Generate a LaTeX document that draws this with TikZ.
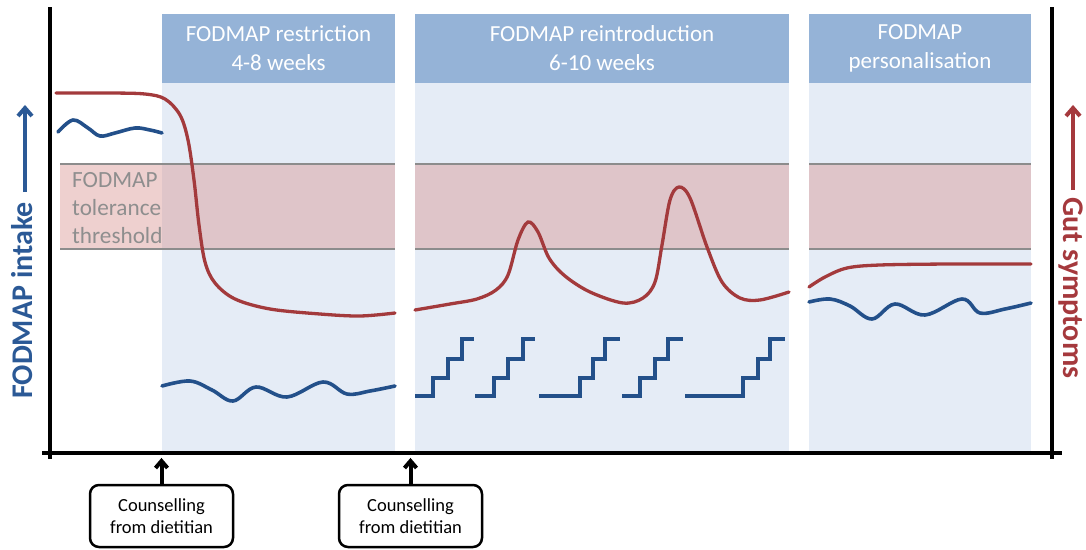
\documentclass[tikz,border=0pt]{standalone}
\usepackage{fontspec}
\setmainfont{Carlito}
\definecolor{hdr}{HTML}{95B3D7}
\definecolor{pane}{HTML}{E5ECF6}
\definecolor{bandc}{HTML}{D99694}
\definecolor{bandline}{HTML}{8C8C8C}
\definecolor{redc}{HTML}{A33A3C}
\definecolor{bluec}{HTML}{23508A}
\definecolor{lblblue}{HTML}{2B5996}
\definecolor{lblred}{HTML}{A5393D}
\definecolor{txtgray}{HTML}{8E8E8E}
\tikzset{
  hdrbox/.style={fill=hdr, text=white, inner sep=0pt, align=center,
    font=\fontsize{23}{29}\selectfont},
  panefill/.style={fill=pane},
  bandfill/.style={fill=bandc, fill opacity=0.45},
  bandedge/.style={draw=bandline, line width=2.2pt},
  redline/.style={draw=redc, line width=3.3pt, line cap=round},
  blueline/.style={draw=bluec, line width=3.6pt, line cap=round},
  stairline/.style={draw=bluec, line width=3.6pt, line join=miter},
  axisline/.style={draw=black, line width=4pt},
  cbox/.style={draw=black, line width=2.5pt, rounded corners=9pt, fill=white,
    minimum width=143pt, minimum height=62pt, inner sep=0pt, align=center,
    font=\fontsize{18.5}{22}\selectfont},
  shaft/.style={line width=4pt},
  chevron/.style={line width=4pt, line join=miter, line cap=butt},
  axlabel/.style={inner sep=0pt, font=\fontsize{30}{34}\selectfont\bfseries},
}
\begin{document}
\begin{tikzpicture}[x=1pt,y=-1pt]
\useasboundingbox (0,0) rectangle (1086,549);
% panel bodies
\fill[panefill] (162,83) rectangle (395,452);
\fill[panefill] (415,83) rectangle (789,452);
\fill[panefill] (809,83) rectangle (1031,452);
% tolerance band
\fill[bandfill] (60,164) rectangle (395,249);
\fill[bandfill] (415,164) rectangle (789,249);
\fill[bandfill] (809,164) rectangle (1031,249);
\draw[bandedge] (60,164) -- (395,164) (60,249) -- (395,249);
\draw[bandedge] (415,164) -- (789,164) (415,249) -- (789,249);
\draw[bandedge] (809,164) -- (1031,164) (809,249) -- (1031,249);
\node[anchor=north west, inner sep=0pt, align=left, text=txtgray,
  font=\fontsize{23.2}{28}\selectfont] (thr) at (72,172.5) {FODMAP\\tolerance\\threshold};
% headers
\node[hdrbox, minimum width=233pt, minimum height=69pt] (h1) at (278.5,48.5) {FODMAP restriction\\4-8 weeks};
\node[hdrbox, minimum width=374pt, minimum height=69pt] (h2) at (602,48.5) {FODMAP reintroduction\\6-10 weeks};
\node[hdrbox, minimum width=222pt, minimum height=69pt] (h3) at (920,48.5) {FODMAP\\personalisation};
% symptom curves
\draw[redline] plot[smooth, tension=0.55] coordinates {(56,93) (110,93) (145,94) (165,99) (180,115) (188,140) (194,180) (199,225) (205,262) (215,283) (235,299) (270,309) (320,314) (360,316) (395,313)};
\draw[redline] plot[smooth, tension=0.55] coordinates {(415,310) (450,304) (477,299) (496,290) (508,275) (518,240) (528,222) (538,232) (549,258) (565,276) (590,292) (623,303) (643,298) (655,282) (662,245) (670,200) (679,187) (690,198) (707,247) (722,282) (740,298) (760,300) (789,292)};
\draw[redline] plot[smooth, tension=0.55] coordinates {(809,287) (825,277) (847,268) (880,265) (950,264) (1031,264)};
% intake curves
\draw[blueline] plot[smooth, tension=0.6] coordinates {(58,132) (73,120) (88,128) (100,136) (115,133) (135,128) (150,130) (162,133)};
\draw[blueline] plot[smooth, tension=0.6] coordinates {(162,386) (190,381) (212,390) (233,401) (256,387) (287,397) (323,382) (347,394) (370,391) (395,386)};
\draw[blueline] plot[smooth, tension=0.6] coordinates {(809,302) (830,299) (850,306) (872,319) (895,304) (925,315) (962,299) (980,313) (1005,309) (1031,303)};
% staircases
\draw[stairline] (415,396) -- (433,396) -- (433,378) -- (448,378) -- (448,359) -- (462,359) -- (462,339) -- (474,339);
\draw[stairline] (475,396) -- (494,396) -- (494,378) -- (508,378) -- (508,359) -- (523,359) -- (523,339) -- (535,339);
\draw[stairline] (539,396) -- (580,396) -- (580,378) -- (593,378) -- (593,359) -- (605,359) -- (605,339) -- (620,339);
\draw[stairline] (622,396) -- (640,396) -- (640,378) -- (655,378) -- (655,359) -- (668,359) -- (668,339) -- (683,339);
\draw[stairline] (685,396) -- (743,396) -- (743,378) -- (758,378) -- (758,359) -- (770,359) -- (770,339) -- (785,339);
% axes
\draw[axisline] (50,7) -- (50,459);
\draw[axisline] (1052,7) -- (1052,459);
\draw[axisline] (42,453) -- (1062,453);
% axis labels
\node[axlabel, text=lblblue, rotate=90, anchor=base west] (ylab) at (32,399) {FODMAP intake};
\coordinate (la1) at (25,192);
\coordinate (la2) at (25,108);
\draw[shaft, draw=lblblue] (la1) -- (la2);
\draw[chevron, draw=lblblue] (la2) ++(-7,8) -- (la2) -- ++(7,8);
\node[axlabel, text=lblred, rotate=-90, anchor=base west] (rlab) at (1063,197) {Gut symptoms};
\coordinate (ra1) at (1073,190);
\coordinate (ra2) at (1073,108);
\draw[shaft, draw=lblred] (ra1) -- (ra2);
\draw[chevron, draw=lblred] (ra2) ++(-7,8) -- (ra2) -- ++(7,8);
% counselling
\node[cbox] (c1) at (161.5,516) {Counselling\\from dietitian};
\node[cbox] (c2) at (410.5,516) {Counselling\\from dietitian};
\coordinate (t1) at (161.5,461);
\coordinate (t2) at (410.5,461);
\draw[shaft, draw=black] (c1.north) -- (t1);
\draw[chevron, draw=black] (t1) ++(-6,7) -- (t1) -- ++(6,7);
\draw[shaft, draw=black] (c2.north) -- (t2);
\draw[chevron, draw=black] (t2) ++(-6,7) -- (t2) -- ++(6,7);
\end{tikzpicture}
\end{document}
